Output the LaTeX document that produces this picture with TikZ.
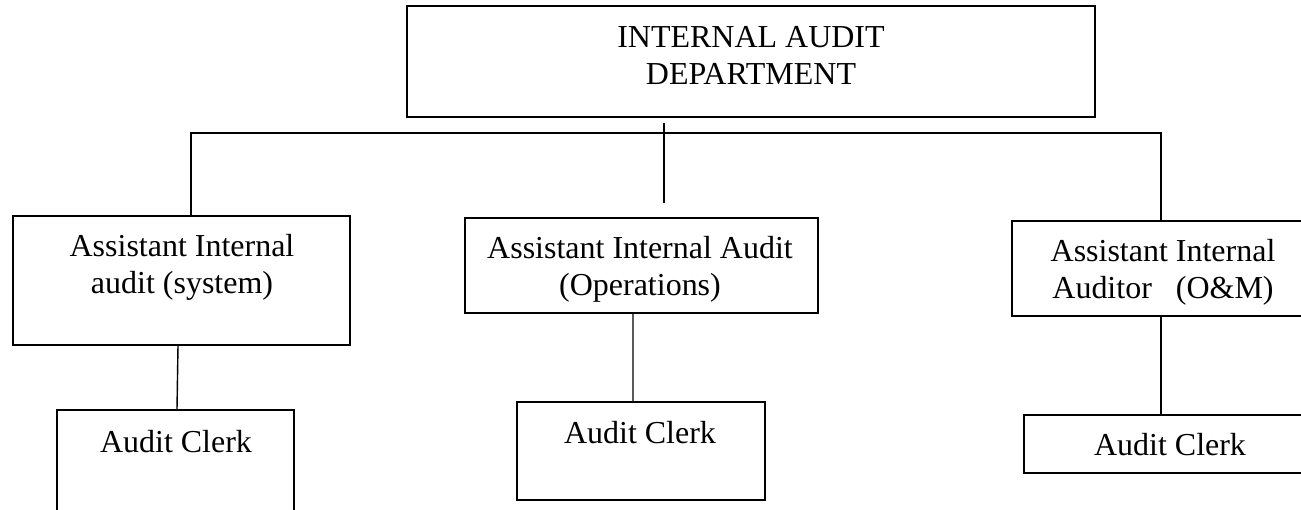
\documentclass[tikz,border=0pt]{standalone}
\usepackage{fontspec}
\setmainfont{Liberation Serif}
\usetikzlibrary{calc}

\begin{document}
\begin{tikzpicture}[
      box/.style={draw=black, line width=0.8pt, fill=none, minimum width=#1, inner sep=0pt},
      txt/.style={align=center, anchor=base, inner sep=0pt, font=\fontsize{18.2pt}{21.6pt}\selectfont},
      conn/.style={draw=black, line width=0.8pt}]
    \useasboundingbox (0,0) rectangle (26.02,-10.2);
    \clip (0,0) rectangle (26.02,-10.2);
    % boxes
    \node[box=13.76cm, minimum height=2.22cm] (dept) at (15.02,-1.23) {};
    \node[box=6.74cm, minimum height=2.58cm] (asys) at (3.63,-5.61) {};
    \node[box=7.06cm, minimum height=1.90cm] (aops) at (12.83,-5.31) {};
    \node[box=5.96cm, minimum height=1.90cm] (aom) at (23.22,-5.37) {};
    \node[box=4.74cm, minimum height=2.40cm] (sysclerk) at (3.51,-9.40) {};
    \node[box=4.96cm, minimum height=1.96cm] (opsclerk) at (12.82,-9.02) {};
    \node[box=5.72cm, minimum height=1.16cm] (omclerk) at (23.34,-8.88) {};
    % texts (base = last line)
    \node[txt] (deptT) at (15.02,-1.70) {INTERNAL AUDIT\\DEPARTMENT};
    \node[txt] (asysT) at (3.64,-5.88) {Assistant Internal\\audit (system)};
    \node[txt] (aopsT) at (12.80,-5.92) {Assistant Internal Audit\\(Operations)};
    \node[txt] (aomT) at (23.26,-5.98) {Assistant Internal\\Auditor\ \ \ (O\&M)};
    \node[txt] (sysclerkT) at (3.52,-9.04) {Audit Clerk};
    \node[txt] (opsclerkT) at (12.80,-8.86) {Audit Clerk};
    \node[txt] (omclerkT) at (23.40,-9.10) {Audit Clerk};
    % lines
    \coordinate (busL) at (3.82,-2.66);
    \coordinate (busR) at (23.22,-2.66);
    \coordinate (stemT) at (13.28,-2.46);
    \coordinate (stemB) at (13.28,-4.06);
    \draw[conn] (asys.north -| busL) -- (busL) -- (busR) -- (aom.north);
    \draw[conn] (stemT) -- (stemB);
    \draw[conn] ($(asys.south)+(-0.07,0)$) -- ($(sysclerk.north)+(0.03,0)$);
    \draw[conn] ($(aops.south)+(-0.17,0)$) -- ($(opsclerk.north)+(-0.16,0)$);
    \draw[conn] (aom.south) -- (aom.south |- omclerk.north);
\end{tikzpicture}
\end{document}
